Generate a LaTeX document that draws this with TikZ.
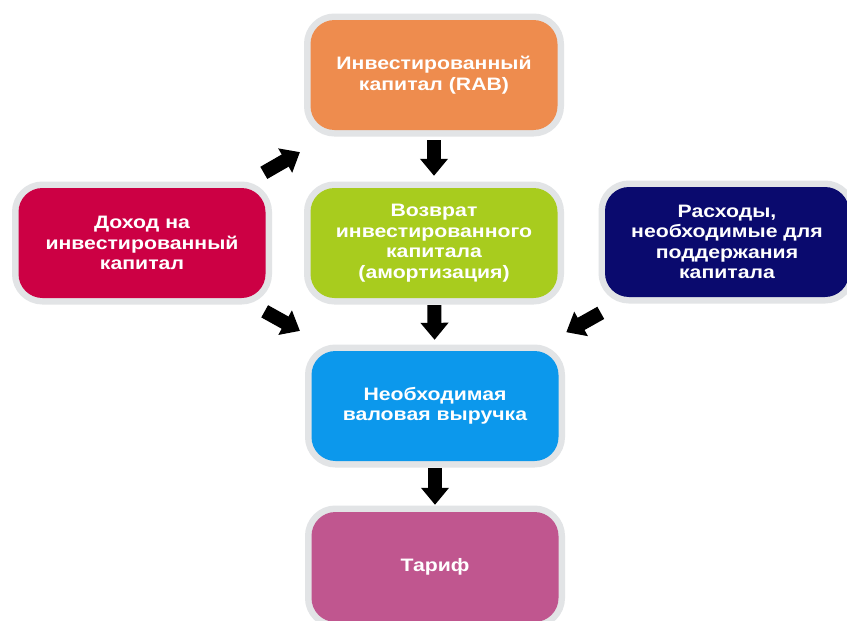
\documentclass[tikz,border=0pt]{standalone}
\usepackage{fontspec}
\setmainfont{Liberation Sans}[FakeStretch=1.18]
\usetikzlibrary{arrows.meta}
\definecolor{cOrange}{RGB}{238,140,78}
\definecolor{cRed}{RGB}{204,0,68}
\definecolor{cGreen}{RGB}{168,204,30}
\definecolor{cNavy}{RGB}{10,10,110}
\definecolor{cBlue}{RGB}{12,152,236}
\definecolor{cMagenta}{RGB}{192,86,143}
\definecolor{cHalo}{RGB}{226,228,230}
\begin{document}
\begin{tikzpicture}[x=1pt,y=-1pt,
  box/.style={rounded corners=24pt, minimum width=247pt, minimum height=110pt,
    text=white, font=\bfseries\fontsize{18}{20.5}\selectfont, align=center,
    inner sep=0pt, preaction={draw=cHalo, line width=13pt}},
  blockarrow/.style={draw=black, line width=14pt, -{Triangle[width=27pt,length=17pt]}}]
\useasboundingbox[fill=white] (0,0) rectangle (847,621);
\node[box, fill=cOrange] (rab) at (434,75) {Инвестированный\\капитал (RAB)};
\node[box, fill=cRed] (dohod) at (142,243) {Доход на\\инвестированный\\капитал};
\node[box, fill=cGreen] (vozv) at (434,243) {Возврат\\инвестированного\\капитала\\(амортизация)};
\node[box, fill=cNavy, minimum width=244pt] (rash) at (727,242) {Расходы,\\необходимые для\\поддержания\\капитала};
\node[box, fill=cBlue] (nvv) at (435,406) {Необходимая\\валовая выручка};
\node[box, fill=cMagenta] (tarif) at (435,567) {Тариф};
\draw[blockarrow, shorten <=10pt, shorten >=12pt] (rab) -- (vozv);
\draw[blockarrow, shorten <=7pt, shorten >=11pt] (vozv) -- (nvv);
\draw[blockarrow, shorten <=7pt, shorten >=7pt] (nvv) -- (tarif);
\draw[blockarrow, shorten <=30pt, shorten >=44pt] (dohod) -- (rab);
\draw[blockarrow, shorten <=27pt, shorten >=41pt] (dohod) -- (nvv);
\draw[blockarrow, shorten <=32pt, shorten >=38pt] (rash) -- (nvv);
\end{tikzpicture}
\end{document}
